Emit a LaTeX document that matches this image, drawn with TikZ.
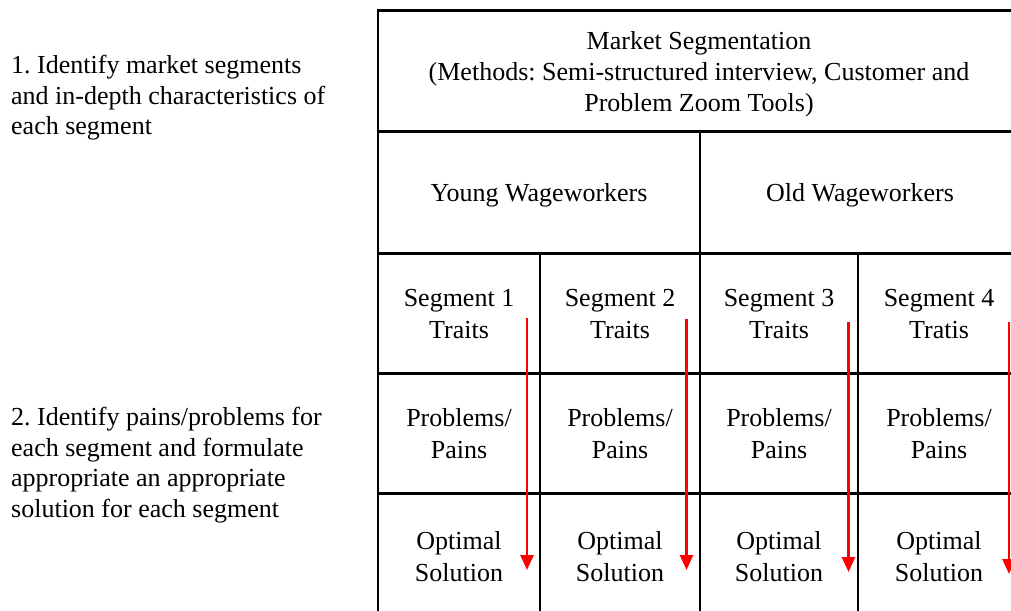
\documentclass[tikz,border=0pt]{standalone}
\usepackage{fontspec}
\setmainfont{Liberation Serif}
\usetikzlibrary{arrows.meta}
\frenchspacing
\begin{document}
\begin{tikzpicture}[x=1pt,y=-1pt,
  cell/.style={draw=black,line width=2.8pt,rectangle,anchor=north west,inner sep=0pt,outer sep=0pt,align=center,
    font=\fontsize{26}{31}\selectfont,text depth=0pt},
  seg/.style={cell,font=\fontsize{26}{32}\selectfont},
  note/.style={anchor=north west,inner sep=0pt,align=left,font=\fontsize{26}{30.7}\selectfont},
  flow/.style={draw=red,line width=2.6pt,-{Triangle[length=15pt,width=13pt]}}]
\useasboundingbox (0,0) rectangle (1011,610);
\begin{scope}
\clip (0,0) rectangle (1011,610);
% header
\node[cell,minimum width=642pt,minimum height=121pt] (hdr) at (378,10.5)
  {Market Segmentation\\(Methods: Semi-structured interview, Customer and\\Problem Zoom Tools)};
% groups
\node[cell,minimum width=322pt,minimum height=122pt] (young) at (378,131.5) {Young Wageworkers};
\node[cell,minimum width=320pt,minimum height=122pt] (old) at (700,131.5) {Old Wageworkers};
% segments
\node[seg,minimum width=162pt,minimum height=120pt] (t1) at (378,253.5) {Segment 1\\Traits};
\node[seg,minimum width=160pt,minimum height=120pt] (t2) at (540,253.5) {Segment 2\\Traits};
\node[seg,minimum width=158pt,minimum height=120pt] (t3) at (700,253.5) {Segment 3\\Traits};
\node[seg,minimum width=162pt,minimum height=120pt] (t4) at (858,253.5) {Segment 4\\Tratis};
\node[seg,minimum width=162pt,minimum height=120pt] (p1) at (378,373.5) {Problems/\\Pains};
\node[seg,minimum width=160pt,minimum height=120pt] (p2) at (540,373.5) {Problems/\\Pains};
\node[seg,minimum width=158pt,minimum height=120pt] (p3) at (700,373.5) {Problems/\\Pains};
\node[seg,minimum width=162pt,minimum height=120pt] (p4) at (858,373.5) {Problems/\\Pains};
\node[seg,minimum width=162pt,minimum height=126pt] (s1) at (378,493.5) {Optimal\\Solution};
\node[seg,minimum width=160pt,minimum height=126pt] (s2) at (540,493.5) {Optimal\\Solution};
\node[seg,minimum width=158pt,minimum height=126pt] (s3) at (700,493.5) {Optimal\\Solution};
\node[seg,minimum width=162pt,minimum height=126pt] (s4) at (858,493.5) {Optimal\\Solution};
% arrows
\coordinate (a1) at (527,318); \coordinate (b1) at (527,570);
\coordinate (a2) at (686.5,319); \coordinate (b2) at (686.5,570);
\coordinate (a3) at (848.5,322); \coordinate (b3) at (848.5,572);
\coordinate (a4) at (1009,322); \coordinate (b4) at (1009,574);
\draw[flow] (a1) -- (b1);
\draw[flow] (a2) -- (b2);
\draw[flow] (a3) -- (b3);
\draw[flow] (a4) -- (b4);
\end{scope}
% left notes
\node[note] (n1) at (11,55) {1. Identify market segments\\and in-depth characteristics of\\each segment};
\node[note] (n2) at (11,407) {2. Identify pains/problems for\\each segment and formulate\\appropriate an appropriate\\solution for each segment};
\end{tikzpicture}
\end{document}
